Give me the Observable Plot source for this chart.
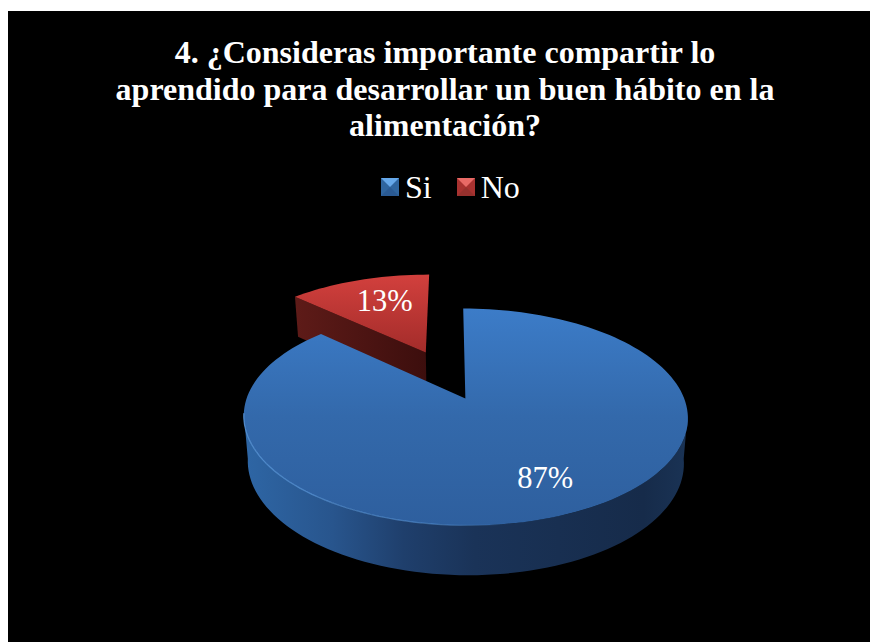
<!DOCTYPE html>
<html lang="es">
<head>
<meta charset="utf-8">
<script src="https://cdn.jsdelivr.net/npm/d3@7"></script>
<script src="https://cdn.jsdelivr.net/npm/@observablehq/plot@0.6"></script>
<style>
  html, body { margin: 0; padding: 0; background: #fff; }
  #panel {
    position: absolute; left: 8px; top: 11px; width: 862px; height: 631px;
    background: #000; color: #fff; overflow: hidden;
    font-family: "Liberation Serif", serif;
  }
  #title {
    position: absolute; left: 0; top: 23px; width: 874px; margin: 0;
    text-align: center; font-size: 32px; line-height: 36.6px; font-weight: bold;
  }
  #legend {
    position: absolute; left: 373px; top: 158px; display: flex; align-items: center;
    font-size: 32px; line-height: 36px; white-space: nowrap;
  }
  .key { width: 0; height: 0; border-style: solid; border-width: 9px; margin-right: 6px; }
  .key.si { border-color: #66a8ea #2f659f #2a5a93 #2f659f; }
  .key.no { border-color: #e86a66 #a83230 #96302d #a83230; }
  .name { margin-right: 25px; }
  #chart { position: absolute; left: 0; top: 209px; }
</style>
</head>
<body>
<div id="panel">
  <h1 id="title">4. ¿Consideras importante compartir lo<br>aprendido para desarrollar un buen hábito en la<br>alimentación?</h1>
  <div id="legend"></div>
  <div id="chart"></div>
</div>
<script>
// Survey answers
const categories = ["Si", "No"];
const shares = [87, 13];
const percentLabels = ["87%", "13%"];
const keyClasses = ["si", "no"];

// Perspective view of the disc, in unit-disc coordinates
const perspective = 0.1705;
const skew = 0.068;
const rimDepth = 44.5;
const lowerScale = 0.982;
const lowerCentre = 0.073;
const pxX = 218.8, pxY = 105.3;
const width = 862, height = 422;
const originX = 442, originY = 178;
const labelRadius = 0.71;
const explodeNo = [-0.19, 0.472];

const project = (u, v) => {
  const w = 1 + perspective * v;
  return {X: (u + skew) / w, Y: v / w, w};
};
const lower = ({X, Y, w}) => ({
  X: lowerCentre + (X - lowerCentre) * lowerScale,
  Y: Y - rimDepth / Math.pow(w, 0.6) / pxY
});
const rad = (deg) => deg * Math.PI / 180;
const onRim = (deg, [du, dv] = [0, 0], r = 1) =>
  project(du + r * Math.sin(rad(deg)), dv + r * Math.cos(rad(deg)));
const arc = (from, to, offset) => {
  const n = Math.max(2, Math.ceil(Math.abs(to - from) / 2));
  return d3.range(n + 1).map((i) => onRim(from + (to - from) * i / n, offset));
};

// Slice angles, clockwise from the top of the disc
const total = d3.sum(shares);
const siEnd = 360 * shares[0] / total;
const siMid = siEnd / 2;
const noMid = (siEnd + 360) / 2;

const siTop = [project(0, 0), ...arc(0, siEnd)];
const siWallTop = arc(98, 262);
const siWall = [...siWallTop, ...siWallTop.slice().reverse().map(lower)];

const noOuter = arc(siEnd, 360, explodeNo);
const noTip = project(explodeNo[0], explodeNo[1]);
const noTop = [noTip, ...noOuter];
const noCut = [noOuter[0], noTip, lower(noTip), lower(noOuter[0])];

const labels = [
  {...onRim(siMid, [0, 0], labelRadius), text: percentLabels[0]},
  {...onRim(noMid, explodeNo, labelRadius), text: percentLabels[1]}
];

// Gradients shared by the faces of the disc
const gradients = () => d3.create("svg:defs").html(`
  <linearGradient id="siFace" x1="0" y1="0" x2="0" y2="1">
    <stop offset="0" stop-color="#3c7cc8"/><stop offset="0.5" stop-color="#3369ab"/><stop offset="1" stop-color="#2e5f9e"/>
  </linearGradient>
  <linearGradient id="siSide" x1="0" y1="0" x2="1" y2="0">
    <stop offset="0" stop-color="#2e66a5"/><stop offset="0.2" stop-color="#28558d"/><stop offset="0.36" stop-color="#1f3f6c"/>
    <stop offset="0.52" stop-color="#1a3358"/><stop offset="0.9" stop-color="#162b4a"/><stop offset="1" stop-color="#1a3355"/>
  </linearGradient>
  <linearGradient id="siRim" x1="0" y1="0" x2="1" y2="0">
    <stop offset="0" stop-color="#5f9fe4" stop-opacity="0.75"/><stop offset="0.42" stop-color="#5f9fe4" stop-opacity="0.5"/><stop offset="0.6" stop-color="#5f9fe4" stop-opacity="0"/>
  </linearGradient>
  <linearGradient id="noFace" x1="0" y1="0" x2="0" y2="1">
    <stop offset="0" stop-color="#d2403d"/><stop offset="1" stop-color="#a32c2a"/>
  </linearGradient>
  <linearGradient id="noSide" x1="0" y1="0" x2="1" y2="0">
    <stop offset="0" stop-color="#5e1b18"/><stop offset="1" stop-color="#3c0e0d"/>
  </linearGradient>
`).node();

const face = (points, fill) =>
  Plot.line(points, {x: "X", y: "Y", fill, stroke: "none"});

const chart = Plot.plot({
  width, height,
  margin: 0,
  style: {background: "transparent", overflow: "visible"},
  x: {axis: null, domain: [-originX / pxX, (width - originX) / pxX], range: [0, width]},
  y: {axis: null, domain: [(originY - height) / pxY, originY / pxY], range: [height, 0]},
  marks: [
    gradients,
    face(noCut, "url(#noSide)"),
    face(noTop, "url(#noFace)"),
    face(siWall, "url(#siSide)"),
    face(siTop, "url(#siFace)"),
    Plot.line(siWallTop, {x: "X", y: "Y", stroke: "url(#siRim)", strokeWidth: 1.2}),
    Plot.text(labels, {
      x: "X", y: "Y", text: "text", fill: "#fff", dx: 8.5, dy: 2.5,
      fontFamily: "Liberation Serif", fontSize: 30.5
    })
  ]
});
document.getElementById("chart").append(chart);

// Legend above the chart
const legend = d3.select("#legend");
categories.forEach((name, i) => {
  legend.append("span").attr("class", `key ${keyClasses[i]}`);
  legend.append("span").attr("class", "name").text(name);
});
</script>
</body>
</html>
